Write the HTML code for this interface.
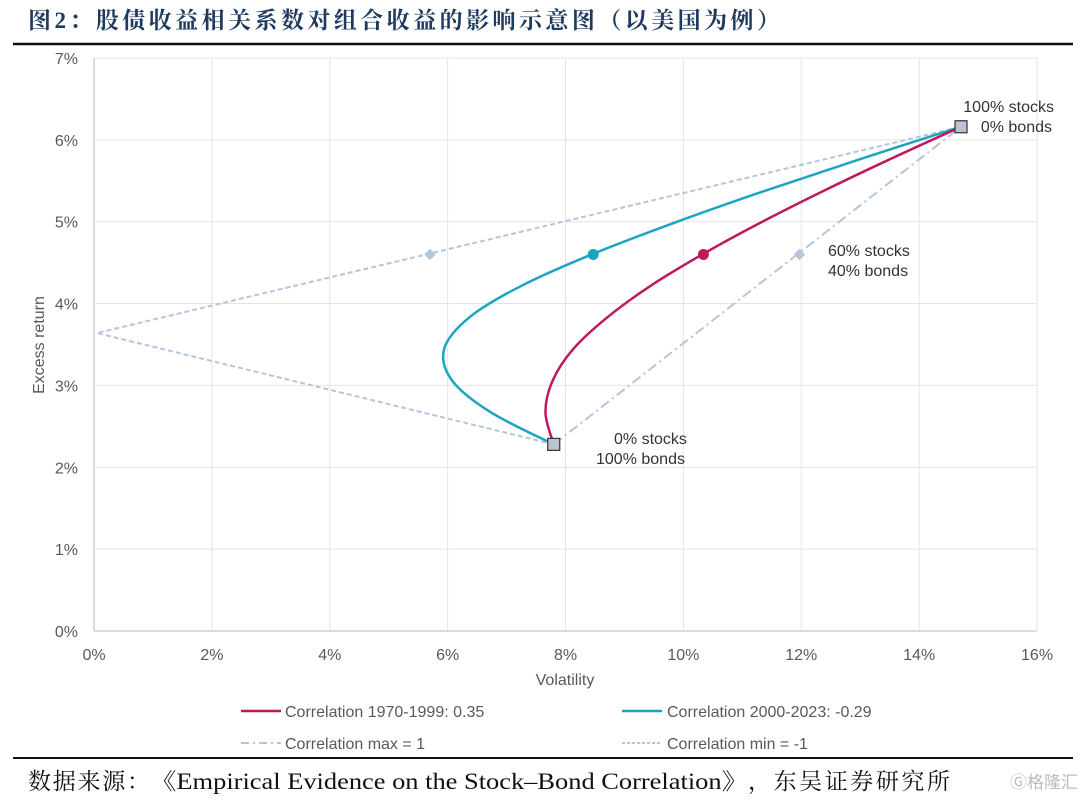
<!DOCTYPE html>
<html><head><meta charset="utf-8">
<style>
body{margin:0;background:#fff;width:1080px;height:803px;overflow:hidden;font-family:"Liberation Sans","Noto Sans CJK SC",sans-serif;}
svg{position:absolute;left:0;top:0}
</style></head>
<body>
<svg id="chart" width="1080" height="803">
<text x="28" y="28" font-family="'Liberation Serif','Noto Serif CJK SC',serif" font-size="23" fill="#1f3a5f" font-weight="bold" textLength="752" lengthAdjust="spacing">图2：股债收益相关系数对组合收益的影响示意图（以美国为例）</text>
<line x1="13" y1="44" x2="1073" y2="44" stroke="#111" stroke-width="2.5"/>
<g id="grid"></g>
<g id="marks"></g>
<text x="565" y="685" text-anchor="middle" font-size="16" fill="#595959">Volatility</text>
<text transform="translate(44,345) rotate(-90)" text-anchor="middle" font-size="16" fill="#595959">Excess return</text>
<g font-size="16" fill="#333">
<text x="1054" y="112" text-anchor="end">100% stocks</text>
<text x="1052" y="132" text-anchor="end">0% bonds</text>
<text x="828" y="256">60% stocks</text>
<text x="828" y="276">40% bonds</text>
<text x="614" y="444">0% stocks</text>
<text x="596" y="464">100% bonds</text>
</g>
<g font-size="16" fill="#595959">
<line x1="241" y1="711" x2="281" y2="711" stroke="#c0185f" stroke-width="2.5"/>
<text x="285" y="717">Correlation 1970-1999: 0.35</text>
<line x1="622" y1="711" x2="662" y2="711" stroke="#1aa6c0" stroke-width="2.5"/>
<text x="667" y="717">Correlation 2000-2023: -0.29</text>
<line x1="241" y1="743" x2="281" y2="743" stroke="#b4c6dc" stroke-width="2" stroke-dasharray="8,4,2,4"/>
<text x="285" y="749">Correlation max = 1</text>
<line x1="622" y1="743" x2="662" y2="743" stroke="#b4c6dc" stroke-width="2" stroke-dasharray="3,2"/>
<text x="667" y="749">Correlation min = -1</text>
</g>
<line x1="13" y1="758" x2="1073" y2="758" stroke="#111" stroke-width="2"/>
<g font-family="'Liberation Serif','Noto Serif CJK SC',serif" font-size="23" fill="#111">
<text x="28" y="789" textLength="122" lengthAdjust="spacing">数据来源：</text>
<text x="150" y="789" textLength="598" lengthAdjust="spacingAndGlyphs">《Empirical Evidence on the Stock–Bond Correlation》</text>
<text x="748" y="789" textLength="202" lengthAdjust="spacing">，东吴证券研究所</text>
</g>
<text x="1078" y="788" text-anchor="end" font-size="17" fill="#bbb">Ⓖ格隆汇</text>
</svg>
<script>
const xTicks=[0,2,4,6,8,10,12,14,16];
const yTicks=[0,1,2,3,4,5,6,7];
const returns=[2.28,2.668,3.056,3.444,3.832,4.22,4.608,4.996,5.384,5.772,6.16];
const volCorr35=[7.80,7.66,7.78,8.13,8.71,9.45,10.34,11.33,12.40,13.53,14.71];
const volCorrNeg29=[7.80,6.74,6.08,5.94,6.37,7.26,8.47,9.88,11.41,13.03,14.71];
const minVol=[7.80,0.05,14.71];
const minRet=[2.28,3.64,6.16];
const maxVol=[7.80,14.71];
const maxRet=[2.28,6.16];
const marker6040Vol=[5.70,8.47,10.34,11.97];
const marker6040Ret=[4.6,4.6,4.6,4.6];
const markerColors=['#b4c6dc','#1aa6c0','#c0185f','#b4c6dc'];

const X=v=>94+v*58.94, Y=v=>631-v*81.86;
const NS='http://www.w3.org/2000/svg';
function mk(tag,attrs,parent){const e=document.createElementNS(NS,tag);for(const k in attrs)e.setAttribute(k,attrs[k]);parent.appendChild(e);return e;}
const grid=document.getElementById('grid'), marks=document.getElementById('marks');
xTicks.forEach(t=>{
  const l=mk('line',{x1:X(t),x2:X(t),y1:Y(7),y2:Y(0),stroke:t===0?'#d0d0d0':'#e4e4e4','stroke-width':t===0?1.5:1},grid);
  
  
  const tx=mk('text',{x:X(t),y:660,'text-anchor':'middle','font-size':16,fill:'#595959'},grid);tx.textContent=t+'%';
  
  
});
yTicks.forEach(t=>{
  const l=mk('line',{x1:X(0),x2:X(16),y1:Y(t),y2:Y(t),stroke:t===0?'#d0d0d0':'#e4e4e4','stroke-width':t===0?1.5:1},grid);
  
  
  const tx=mk('text',{x:78,y:Y(t)+6,'text-anchor':'end','font-size':16,fill:'#595959'},grid);tx.textContent=t+'%';
  
  
});
function smooth(xs,ys){
  const p=xs.map((x,i)=>[X(x),Y(ys[i])]);
  let d='M'+p[0][0]+','+p[0][1];
  for(let i=0;i<p.length-1;i++){
    const p0=p[Math.max(0,i-1)],p1=p[i],p2=p[i+1],p3=p[Math.min(p.length-1,i+2)];
    const c1=[p1[0]+(p2[0]-p0[0])/6,p1[1]+(p2[1]-p0[1])/6];
    const c2=[p2[0]-(p3[0]-p1[0])/6,p2[1]-(p3[1]-p1[1])/6];
    d+=' C'+c1+' '+c2+' '+p2;
  }
  return d;
}
const pmin=mk('polyline',{points:minVol.map((v,i)=>X(v)+','+Y(minRet[i])).join(' '),fill:'none',stroke:'#b4c6dc','stroke-width':2,'stroke-dasharray':'5,3'},marks);


const pmax=mk('polyline',{points:maxVol.map((v,i)=>X(v)+','+Y(maxRet[i])).join(' '),fill:'none',stroke:'#b4c6dc','stroke-width':2,'stroke-dasharray':'10,4,2,4'},marks);


const c1=mk('path',{d:smooth(volCorrNeg29,returns),fill:'none',stroke:'#1aa6c0','stroke-width':2.5},marks);


const c2=mk('path',{d:smooth(volCorr35,returns),fill:'none',stroke:'#c0185f','stroke-width':2.5},marks);


marker6040Vol.forEach((v,i)=>{
  let m;
  if(i===0||i===3){m=mk('rect',{x:X(v)-4,y:Y(marker6040Ret[i])-4,width:8,height:8,fill:markerColors[i],transform:`rotate(45 ${X(v)} ${Y(marker6040Ret[i])})`},marks);}
  else{m=mk('circle',{cx:X(v),cy:Y(marker6040Ret[i]),r:5.5,fill:markerColors[i]},marks);}
  
  
});
[[maxVol[0],maxRet[0]],[maxVol[1],maxRet[1]]].forEach(([v,r])=>{
  const s=mk('rect',{x:X(v)-6,y:Y(r)-6,width:12,height:12,fill:'#b8c4d2',stroke:'#333','stroke-width':1.2},marks);
  
  
});
</script>
</body></html>
